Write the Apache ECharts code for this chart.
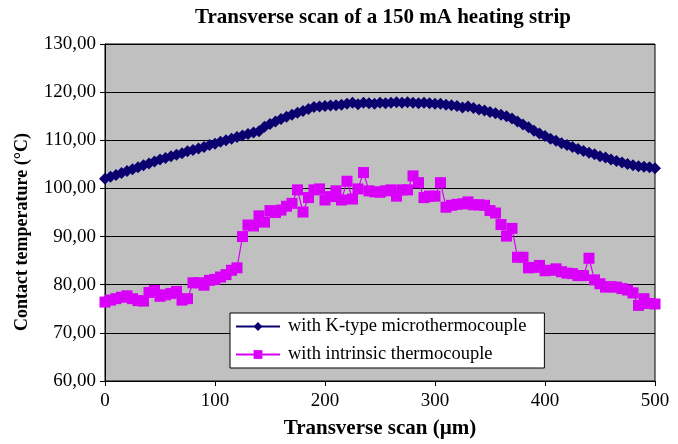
<!DOCTYPE html>
<html><head><meta charset="utf-8">
<script src="https://cdn.jsdelivr.net/npm/echarts@6/dist/echarts.min.js"></script>
<style>html,body{margin:0;padding:0;background:#fff}#c{width:678px;height:444px}</style>
</head><body><div id="c"></div>
<script>
var title = 'Transverse scan of a 150 mA heating strip';
var xName = 'Transverse scan (\u00b5m)';
var yName = 'Contact temperature (\u00b0C)';
var seriesNames = ['with K-type microthermocouple', 'with intrinsic thermocouple'];
var xStep = 5;
var kType = [102.0,102.4,102.8,103.2,103.6,104.0,104.4,104.8,105.2,105.6,106.0,106.3,106.7,107.0,107.3,107.7,108.0,108.3,108.6,109.0,109.3,109.7,110.0,110.3,110.7,111.0,111.3,111.6,111.9,112.8,113.4,113.9,114.4,114.9,115.3,115.7,116.1,116.5,116.9,117.0,117.1,117.2,117.3,117.4,117.6,117.8,117.5,117.8,117.7,117.6,117.8,117.7,117.8,117.9,117.8,117.9,117.8,117.7,117.8,117.7,117.6,117.6,117.4,117.3,117.1,116.8,117.0,116.7,116.4,116.2,115.9,115.6,115.3,115.0,114.5,113.9,113.3,112.7,112.0,111.4,110.9,110.3,109.9,109.4,109.0,108.6,108.2,107.8,107.4,107.1,106.7,106.4,106.0,105.7,105.4,105.1,104.8,104.6,104.5,104.4,104.2];
var intrinsic = [76.4,76.8,77.1,77.4,77.7,77.1,76.7,76.6,78.4,78.8,77.6,77.9,78.2,78.6,76.8,77.1,80.4,80.4,79.9,80.9,81.1,81.6,82.1,83.0,83.5,90.0,92.4,92.2,94.3,93.0,95.4,95.0,95.5,96.3,96.9,99.7,95.1,98.1,99.7,99.9,97.6,98.3,99.5,97.6,101.5,97.8,99.9,103.3,99.5,99.3,99.2,99.5,99.7,98.4,99.7,99.7,102.6,101.2,98.1,98.4,98.4,101.2,96.1,96.5,96.7,96.8,97.2,96.6,96.6,96.5,95.4,94.9,92.5,90.1,91.7,85.7,85.7,83.5,83.6,84.0,82.9,83.0,83.3,82.7,82.4,82.3,81.9,81.9,85.5,81.0,80.2,79.5,79.6,79.5,79.2,78.9,78.3,75.7,77.1,76.1,76.0];

function pairs(arr){ return arr.map(function(v,i){ return [i*xStep, v]; }); }
var font = '"Liberation Serif","Times New Roman",serif';
var chart = echarts.init(document.getElementById('c'), null, {renderer:'canvas'});
chart.setOption({
  animation:false,
  backgroundColor:'#fff',
  textStyle:{fontFamily:font},
  graphic:[
    {type:'text', x:383, y:18, style:{text:title, align:'center', verticalAlign:'middle', fill:'#000',
      font:'bold 21px ' + font}},
    {type:'text', x:22, y:232, rotation:Math.PI/2, style:{text:yName, align:'center', verticalAlign:'middle', fill:'#000',
      font:'bold 18px ' + font}}
  ],
  grid:{left:105, right:23, top:44, bottom:59, show:true, backgroundColor:'#c0c0c0', borderColor:'#000', borderWidth:1},
  legend:{
    orient:'vertical', left:230, top:313,
    backgroundColor:'#fff', borderColor:'#000', borderWidth:1,
    padding:[4,18,4,5], itemGap:9, itemWidth:44, itemHeight:11,
    textStyle:{fontFamily:font, fontSize:18.5, color:'#000', padding:[0,0,0,3]},
    data:seriesNames
  },
  xAxis:{
    type:'value', min:0, max:500, interval:100,
    name:xName, nameLocation:'middle', nameGap:37,
    nameTextStyle:{fontFamily:font, fontSize:21, fontWeight:'bold', color:'#000'},
    axisLine:{onZero:false, lineStyle:{color:'#000'}},
    axisTick:{show:true, length:5, lineStyle:{color:'#000'}},
    axisLabel:{fontFamily:font, fontSize:19, color:'#000', margin:11},
    splitLine:{show:false}
  },
  yAxis:{
    type:'value', min:60, max:130, interval:10,
    axisLine:{show:true, lineStyle:{color:'#000'}},
    axisTick:{show:true, length:5, lineStyle:{color:'#000'}},
    axisLabel:{fontFamily:font, fontSize:19, color:'#000', margin:9,
      formatter:function(v){ return v.toFixed(2).replace('.', ','); }},
    splitLine:{show:true, lineStyle:{color:'#000', width:1}}
  },
  series:[
    {name:seriesNames[0], type:'line', data:pairs(kType), symbol:'diamond', symbolSize:12,
     itemStyle:{color:'#0a0070'}, lineStyle:{color:'#0a0070', width:2}, z:3},
    {name:seriesNames[1], type:'line', data:pairs(intrinsic), symbol:'rect', symbolSize:11,
     itemStyle:{color:'#d800f8'}, lineStyle:{color:'#d800f8', width:1.2}, z:2}
  ]
});
</script></body></html>
